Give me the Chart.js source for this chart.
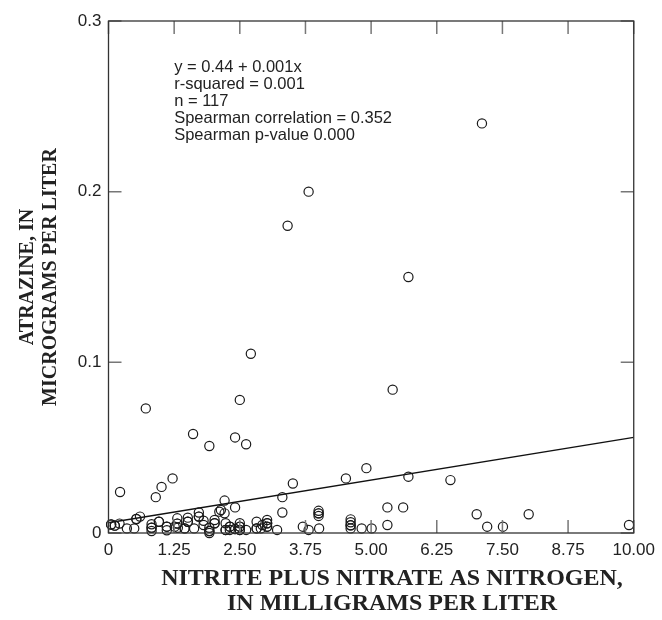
<!DOCTYPE html>
<html>
<head>
<meta charset="utf-8">
<script src="https://cdn.jsdelivr.net/npm/chart.js@4.4.0/dist/chart.umd.min.js"></script>
<style>
  html, body { margin: 0; padding: 0; background: #fff; }
  canvas { display: block; }
</style>
</head>
<body>
<canvas id="chart" width="662" height="620"></canvas>
<script>
// nitrite plus nitrate (mg/L) and atrazine (ug/L)
const nitrate = [
  3.81, 3.41, 2.71, 5.41, 0.71, 2.50, 1.61, 1.92, 2.41, 2.62, 7.11, 5.71,
  0.22, 0.90, 1.01, 1.22, 3.51, 3.31, 4.52, 4.91, 5.71, 6.51, 5.31, 5.61,
  7.01, 8.00, 2.21, 2.41, 2.14, 2.21, 3.31, 4.00, 4.00, 4.00, 1.72, 1.72,
  0.60, 0.53, 1.31, 1.51,
  0.05, 0.12, 0.21, 0.35, 0.49, 0.82, 0.82, 0.82, 0.96, 1.11, 1.11, 1.26,
  1.31, 1.32, 1.51, 1.45, 1.63, 1.81, 1.81, 1.92, 1.92, 1.92, 2.02, 2.02,
  2.11, 2.23, 2.23, 2.31, 2.31, 2.41, 2.50, 2.50, 2.50, 2.62, 2.82, 2.82,
  2.90, 2.93, 3.02, 3.02, 3.02, 3.21, 3.70, 3.81, 4.01, 4.61, 4.61, 4.61,
  4.61, 4.82, 5.01, 5.31, 7.21, 7.51, 9.91,
  0.05, 0.12, 0.82, 1.11, 1.31, 1.51, 1.92, 2.02, 2.23, 2.31, 2.50, 2.50,
  2.82, 3.02, 4.61, 1.72, 0.53, 2.41, 1.45, 0.96, 3.02, 4.00
];
const atrazine = [
  0.200, 0.180, 0.105, 0.084, 0.073, 0.078, 0.058, 0.051, 0.056, 0.052, 0.240, 0.150,
  0.024, 0.021, 0.027, 0.032, 0.029, 0.021, 0.032, 0.038, 0.033, 0.031, 0.015, 0.015,
  0.011, 0.011, 0.019, 0.015, 0.0135, 0.0115, 0.012, 0.013, 0.0115, 0.010, 0.012, 0.0096,
  0.0096, 0.0082, 0.0086, 0.009,
  0.005, 0.0043, 0.0055, 0.0027, 0.0027, 0.0051, 0.0031, 0.0012, 0.0066, 0.0037, 0.0016, 0.0037,
  0.0055, 0.0031, 0.0066, 0.0027, 0.0027, 0.0072, 0.0047, 0.0031, 0.0012, 0.0, 0.0076, 0.0057,
  0.0125, 0.0057, 0.0018, 0.0037, 0.0018, 0.0023, 0.0057, 0.0037, 0.0018, 0.0018, 0.0066, 0.0027,
  0.0027, 0.0047, 0.0076, 0.0057, 0.0037, 0.0018, 0.0037, 0.0018, 0.0027, 0.008, 0.0063, 0.0045,
  0.0027, 0.0027, 0.0027, 0.0047, 0.0037, 0.0037, 0.0047,
  0.005, 0.0043, 0.0031, 0.0037, 0.0055, 0.0066, 0.0012, 0.0057, 0.0018, 0.0037, 0.0037, 0.0018,
  0.0027, 0.0057, 0.0045, 0.0096, 0.0082, 0.0023, 0.0027, 0.0066, 0.0037, 0.0115
];

// fitted line end points
const fitX = [0, 10];
const fitY = [0.006, 0.056];

const xTicks = [0, 1.25, 2.5, 3.75, 5, 6.25, 7.5, 8.75, 10];
const xTickLabels = ['0', '1.25', '2.50', '3.75', '5.00', '6.25', '7.50', '8.75', '10.00'];
const yTicks = [0, 0.1, 0.2, 0.3];
const yTickLabels = ['0', '0.1', '0.2', '0.3'];

const statsLines = [
  'y = 0.44 + 0.001x',
  'r-squared = 0.001',
  'n = 117',
  'Spearman correlation = 0.352',
  'Spearman p-value 0.000'
];
const xTitle = ['NITRITE PLUS NITRATE AS NITROGEN,', 'IN MILLIGRAMS PER LITER'];
const yTitle = ['ATRAZINE, IN', 'MICROGRAMS PER LITER'];

const points = nitrate.map((v, i) => ({ x: v, y: atrazine[i] }));
const fitLine = fitX.map((v, i) => ({ x: v, y: fitY[i] }));

// frame, inward ticks on all four sides, stats block and axis titles
const framePlugin = {
  id: 'frame',
  afterDraw(chart) {
    const { ctx, chartArea: a, scales: { x, y } } = chart;
    const tick = 13;
    ctx.save();
    ctx.strokeStyle = '#777';
    ctx.lineWidth = 1.5;
    ctx.beginPath();
    xTicks.forEach(v => {
      const px = x.getPixelForValue(v);
      ctx.moveTo(px, a.bottom); ctx.lineTo(px, a.bottom - tick);
      ctx.moveTo(px, a.top); ctx.lineTo(px, a.top + tick);
    });
    yTicks.forEach(v => {
      const py = y.getPixelForValue(v);
      ctx.moveTo(a.left, py); ctx.lineTo(a.left + tick, py);
      ctx.moveTo(a.right, py); ctx.lineTo(a.right - tick, py);
    });
    ctx.stroke();

    ctx.strokeStyle = '#333';
    ctx.lineWidth = 1.3;
    ctx.strokeRect(a.left, a.top, a.right - a.left, a.bottom - a.top);

    // regression stats
    ctx.fillStyle = '#222';
    ctx.font = '16.5px "Liberation Sans", Arial, sans-serif';
    ctx.textBaseline = 'middle';
    ctx.textAlign = 'left';
    const sx = x.getPixelForValue(1.25);
    statsLines.forEach((t, i) => ctx.fillText(t, sx, a.top + 46 + i * 17.1));

    // axis titles
    ctx.fillStyle = '#222';
    ctx.textAlign = 'center';
    ctx.font = 'bold 24px "Liberation Serif", "Times New Roman", serif';
    xTitle.forEach((t, i) => ctx.fillText(t, 392, 579 + i * 25));
    ctx.font = 'bold 20px "Liberation Serif", "Times New Roman", serif';
    ctx.translate(0, (a.top + a.bottom) / 2);
    ctx.rotate(-Math.PI / 2);
    yTitle.forEach((t, i) => ctx.fillText(t, 0, 28 + i * 23));
    ctx.restore();
  }
};

new Chart(document.getElementById('chart'), {
  type: 'scatter',
  data: {
    datasets: [
      {
        data: points,
        pointStyle: 'circle',
        pointRadius: 4.6,
        pointBorderWidth: 1.2,
        pointBorderColor: '#1a1a1a',
        pointBackgroundColor: 'rgba(0,0,0,0)',
        clip: false
      },
      {
        type: 'line',
        data: fitLine,
        borderColor: '#111',
        borderWidth: 1.3,
        pointRadius: 0,
        fill: false
      }
    ]
  },
  options: {
    responsive: false,
    devicePixelRatio: 1,
    animation: false,
    layout: { padding: { top: 21, right: 25, left: 0, bottom: 0 } },
    plugins: { legend: { display: false }, tooltip: { enabled: false } },
    scales: {
      x: {
        type: 'linear',
        min: 0,
        max: 10,
        afterBuildTicks: s => { s.ticks = xTicks.map(v => ({ value: v })); },
        afterFit: s => { s.height = 87; },
        grid: { display: false, drawTicks: false },
        border: { display: false },
        ticks: {
          padding: 7,
          color: '#222',
          font: { family: '"Liberation Sans", Arial, sans-serif', size: 17 },
          callback: (v, i) => xTickLabels[i]
        }
      },
      y: {
        type: 'linear',
        min: 0,
        max: 0.3,
        afterBuildTicks: s => { s.ticks = yTicks.map(v => ({ value: v })); },
        afterFit: s => { s.width = 108.5; },
        grid: { display: false, drawTicks: false },
        border: { display: false },
        ticks: {
          padding: 7,
          color: '#222',
          font: { family: '"Liberation Sans", Arial, sans-serif', size: 17 },
          callback: (v, i) => yTickLabels[i]
        }
      }
    }
  },
  plugins: [framePlugin]
});
</script>
</body>
</html>
